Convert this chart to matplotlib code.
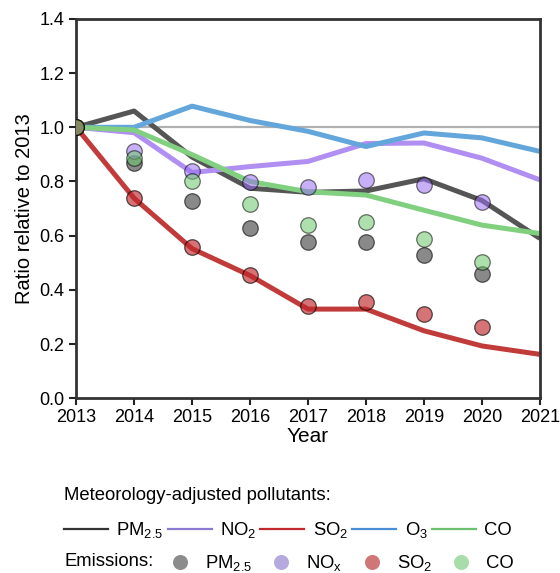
import numpy as np
import matplotlib
matplotlib.use("Agg")
import matplotlib.pyplot as plt
from matplotlib.lines import Line2D

plt.rcParams['font.family'] = ['Liberation Sans', 'DejaVu Sans']
plt.rcParams['mathtext.default'] = 'regular'

years = [2013, 2014, 2015, 2016, 2017, 2018, 2019, 2020, 2021]

# meteorology-adjusted pollutant ratios (relative to 2013)
pm25_adj = [1.0, 1.06, 0.89, 0.775, 0.76, 0.765, 0.81, 0.73, 0.59]
no2_adj = [1.0, 0.98, 0.833, 0.855, 0.874, 0.94, 0.942, 0.886, 0.806]
so2_adj = [1.0, 0.738, 0.552, 0.453, 0.329, 0.329, 0.249, 0.193, 0.162]
o3_adj = [1.0, 1.0, 1.078, 1.025, 0.985, 0.929, 0.979, 0.961, 0.911]
co_adj = [1.0, 0.99, 0.899, 0.80, 0.762, 0.75, 0.694, 0.639, 0.608]

# emission ratios (relative to 2013), 2013-2020
emis_years = [2013, 2014, 2015, 2016, 2017, 2018, 2019, 2020]
pm25_emis = [1.0, 0.868, 0.728, 0.629, 0.577, 0.577, 0.527, 0.459]
nox_emis = [1.0, 0.911, 0.837, 0.797, 0.781, 0.806, 0.787, 0.725]
so2_emis = [1.0, 0.738, 0.558, 0.453, 0.342, 0.354, 0.311, 0.264]
co_emis = [1.0, 0.886, 0.80, 0.716, 0.639, 0.651, 0.586, 0.502]

line_labels = ['PM$_{2.5}$', 'NO$_2$', 'SO$_2$', 'O$_3$', 'CO']
dot_labels = ['PM$_{2.5}$', 'NO$_x$', 'SO$_2$', 'CO']

line_series = [
    (pm25_adj, '#555555', '#333333'),
    (no2_adj, '#b08ef2', '#8c7bd0'),
    (so2_adj, '#c23b3b', '#c0282d'),
    (o3_adj, '#62a6dc', '#4a8fd6'),
    (co_adj, '#80d080', '#6cbf6c'),
]
dot_series = [
    (pm25_emis, '#3a3a3a', 0.6, '#8c8c8c'),
    (nox_emis, '#9a6ff2', 0.55, '#b6a9de'),
    (so2_emis, '#c0282d', 0.65, '#d07676'),
    (co_emis, '#6cc86c', 0.55, '#a9dcab'),
]

fig = plt.figure(figsize=(5.6, 5.73), dpi=100)
ax = fig.add_axes([0.136, 0.305, 0.828, 0.662])

ax.axhline(1.0, color='#b0b0b0', lw=1.6, zorder=1)

for vals, col, _ in line_series:
    ax.plot(years, vals, color=col, lw=3.6, zorder=2, solid_capstyle='butt')

for vals, col, a, _ in dot_series:
    ax.scatter(emis_years, vals, s=125, color=col, alpha=a,
               edgecolors='black', linewidths=0.9, zorder=3)

ax.set_xlim(2013, 2021)
ax.set_ylim(0, 1.4)
ax.set_xticks(years)
yt = np.arange(0, 1.41, 0.2)
ax.set_yticks(yt)
ax.set_yticklabels([f'{v:.1f}' for v in yt])
ax.tick_params(axis='both', labelsize=13, length=5, width=1.5,
               direction='out', colors='#222222', labelcolor='black')
ax.tick_params(axis='y', pad=3.5)
ax.tick_params(axis='x', pad=2.5)
for side in ['left', 'bottom', 'top', 'right']:
    ax.spines[side].set_linewidth(2.0)
    ax.spines[side].set_color('#333333')

ax.set_xlabel('Year', fontsize=15, labelpad=1)
ax.set_ylabel('Ratio relative to 2013', fontsize=14.5, labelpad=4)

# legend rows below the axes
fig.text(64 / 560, 1 - 495 / 573, 'Meteorology-adjusted pollutants:',
         fontsize=13.3, va='center', ha='left')
line_handles = [Line2D([], [], color=c, lw=1.6) for _, _, c in line_series]
fig.legend(line_handles, line_labels,
           loc='center left', bbox_to_anchor=(64 / 560, 1 - 530 / 573),
           ncol=5, frameon=False, fontsize=13.3, handlelength=2.38,
           handletextpad=0.45, columnspacing=0.22, borderpad=0,
           borderaxespad=0)

fig.text(64 / 560, 1 - 562 / 573, 'Emissions:', fontsize=13.3,
         va='center', ha='left')
dot_handles = [Line2D([], [], ls='none', marker='o', markersize=10.8,
                      markerfacecolor=c, markeredgecolor='none')
               for _, _, _, c in dot_series]
fig.legend(dot_handles, dot_labels,
           loc='center left', bbox_to_anchor=(171 / 560, 1 - 563 / 573),
           ncol=4, frameon=False, fontsize=13.3, handlelength=1.0,
           handletextpad=0.85, columnspacing=1.07, borderpad=0,
           borderaxespad=0)

fig.savefig('out.png', dpi=100)
